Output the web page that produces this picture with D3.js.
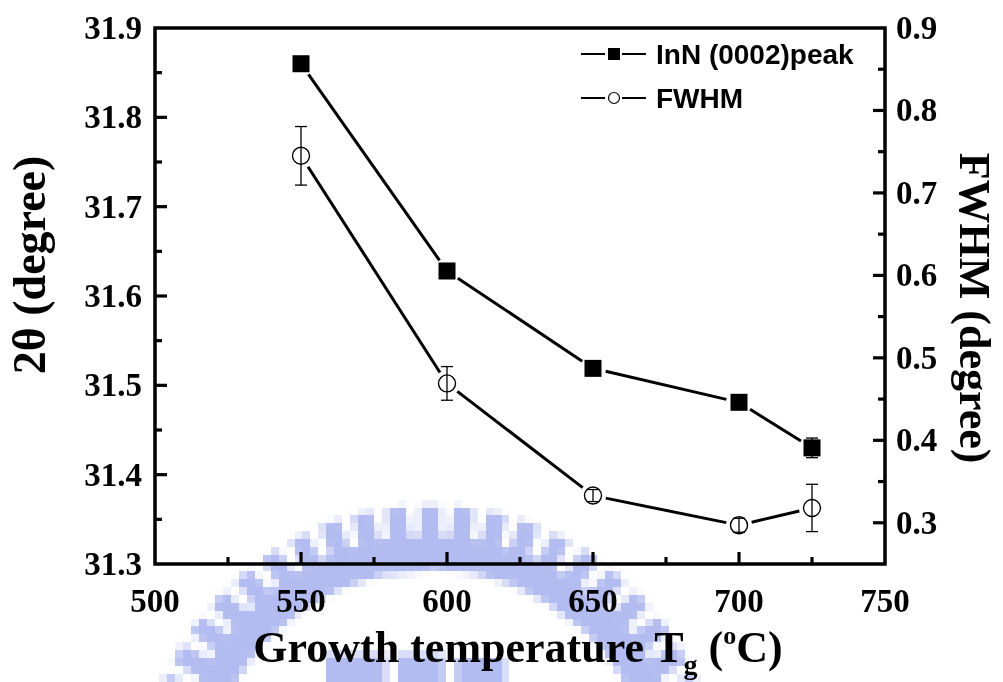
<!DOCTYPE html>
<html>
<head>
<meta charset="utf-8">
<script src="https://cdn.jsdelivr.net/npm/d3@7"></script>
<style>
  html, body { margin: 0; padding: 0; background: #fff; }
  #wrap { position: relative; width: 1003px; height: 682px; overflow: hidden; }
  #mark { position: absolute; left: 0; top: 0; width: 1003px; height: 682px; image-rendering: pixelated; }
  svg { position: absolute; left: 0; top: 0; }
</style>
</head>
<body>
<div id="wrap">
  <canvas id="mark"></canvas>
  <svg id="chart" width="1003" height="682"></svg>
</div>
<script>
// Growth temperature (°C)
const temps = [550, 600, 650, 700, 725];
// InN (0002) peak position 2θ (degree), left axis
const peak = [31.860, 31.628, 31.519, 31.481, 31.430];
const peakErr = [0, 0, 0, 0, 0.011];
// FWHM (degree), right axis
const fwhm = [0.745, 0.469, 0.333, 0.297, 0.318];
const fwhmErr = [0.0355, 0.0204, 0.0073, 0.0085, 0.0287];
// Tick values
const xTicks = [500, 550, 600, 650, 700, 750];
const leftTicks = [31.3, 31.4, 31.5, 31.6, 31.7, 31.8, 31.9];
const rightTicks = [0.3, 0.4, 0.5, 0.6, 0.7, 0.8, 0.9];

const L = 155, R = 885, T = 28, B = 564;
const x = d3.scaleLinear().domain([500, 750]).range([L, R]);
const yL = d3.scaleLinear().domain([31.3, 31.9]).range([B, T]);
const yR = d3.scaleLinear().domain([0.25, 0.9]).range([B, T]);

// ---- faint gear-ring emblem behind the plot, rendered coarse and scaled up ----
(function drawEmblem() {
  const cell = 8;
  const cv = document.getElementById('mark');
  cv.width = Math.ceil(1003 / cell);
  cv.height = Math.ceil(682 / cell);
  const ctx = cv.getContext('2d');
  ctx.scale(1 / cell, 1 / cell);
  ctx.fillStyle = '#b3bcf0';
  const cx = 432, cy = 800;
  // ring band
  const band = d3.arc().innerRadius(225).outerRadius(260)
    .startAngle(-Math.PI * 0.62).endAngle(Math.PI * 0.62).context(ctx);
  ctx.save(); ctx.translate(cx, cy); ctx.beginPath(); band(); ctx.fill(); ctx.restore();
  // teeth
  d3.range(-15, 16).forEach(i => {
    ctx.save();
    ctx.translate(cx, cy);
    ctx.rotate(i * 0.118);
    ctx.fillRect(-10, -290, 20, 36);
    ctx.restore();
  });
  // central block
  ctx.fillRect(328, 660, 60, 30);
  ctx.fillRect(400, 660, 46, 30);
  ctx.fillRect(458, 664, 50, 30);
})();

const svg = d3.select('#chart');
const serif = "'Liberation Serif', 'Times New Roman', serif";
const sans = "'Liberation Sans', Arial, sans-serif";

// ---- frame ----
svg.append('rect').attr('x', L).attr('y', T).attr('width', R - L).attr('height', B - T)
  .attr('fill', 'none').attr('stroke', '#000').attr('stroke-width', 3.5);

// ---- ticks (inward) ----
const tk = svg.append('g').attr('stroke', '#000').attr('stroke-width', 3.2);
d3.range(500, 751, 25).forEach(v => {
  if (v === 500 || v === 750) return;
  const len = v % 50 === 0 ? 12 : 7;
  tk.append('line').attr('x1', x(v)).attr('x2', x(v)).attr('y1', B).attr('y2', B - len);
});
d3.range(1, 12).forEach(i => {
  const v = 31.3 + i * 0.05;
  const len = i % 2 === 0 ? 12 : 7;
  tk.append('line').attr('x1', L).attr('x2', L + len).attr('y1', yL(v)).attr('y2', yL(v));
});
d3.range(1, 13).forEach(i => {
  const v = 0.25 + i * 0.05;
  const len = i % 2 === 1 ? 12 : 7;
  tk.append('line').attr('x1', R).attr('x2', R - len).attr('y1', yR(v)).attr('y2', yR(v));
});

// ---- tick labels ----
const lab = svg.append('g').attr('font-family', serif).attr('font-weight', 'bold')
  .attr('font-size', 33).attr('fill', '#000');
xTicks.forEach(v => lab.append('text').attr('x', x(v)).attr('y', 612)
  .attr('text-anchor', 'middle').text(v));
leftTicks.forEach(v => lab.append('text').attr('x', 142).attr('y', yL(v) + 11)
  .attr('text-anchor', 'end').text(d3.format('.1f')(v)));
rightTicks.forEach(v => lab.append('text').attr('x', 896).attr('y', yR(v) + 11)
  .attr('text-anchor', 'start').text(d3.format('.1f')(v)));

// ---- axis titles ----
svg.append('text').attr('transform', 'translate(45,265) rotate(-90)')
  .attr('text-anchor', 'middle').attr('font-family', serif).attr('font-weight', 'bold')
  .attr('font-size', 46).text('2θ  (degree)');
svg.append('text').attr('transform', 'translate(960,308) rotate(90)')
  .attr('text-anchor', 'middle').attr('font-family', serif).attr('font-weight', 'bold')
  .attr('font-size', 44).text('FWHM (degree)');
const xt = svg.append('text').attr('x', 518).attr('y', 662).attr('text-anchor', 'middle')
  .attr('font-family', serif).attr('font-weight', 'bold').attr('font-size', 44);
xt.append('tspan').text('Growth temperature T');
xt.append('tspan').attr('font-size', 28).attr('dy', 12).text('g');
xt.append('tspan').attr('font-size', 44).attr('dy', -12).text(' (');
xt.append('tspan').attr('font-size', 26).attr('dy', -18).text('o');
xt.append('tspan').attr('font-size', 44).attr('dy', 18).text('C)');

// ---- connecting lines, stopped short of each marker ----
function gappedSegments(pts, gap) {
  const segs = [];
  for (let i = 0; i < pts.length - 1; i++) {
    const [x1, y1] = pts[i], [x2, y2] = pts[i + 1];
    const d = Math.hypot(x2 - x1, y2 - y1);
    const ux = (x2 - x1) / d, uy = (y2 - y1) / d;
    segs.push([[x1 + ux * gap, y1 + uy * gap], [x2 - ux * gap, y2 - uy * gap]]);
  }
  return segs;
}
const line = d3.line();
const peakPts = temps.map((t, i) => [x(t), yL(peak[i])]);
const fwhmPts = temps.map((t, i) => [x(t), yR(fwhm[i])]);
[peakPts, fwhmPts].forEach(pts => {
  gappedSegments(pts, 13).forEach(s => svg.append('path').attr('d', line(s))
    .attr('fill', 'none').attr('stroke', '#000').attr('stroke-width', 3));
});

// ---- error bars ----
const eb = svg.append('g').attr('stroke', '#000').attr('stroke-width', 1.3).attr('fill', 'none');
function errBar(cx, yTop, yBot) {
  eb.append('line').attr('x1', cx).attr('x2', cx).attr('y1', yTop).attr('y2', yBot);
  eb.append('line').attr('x1', cx - 6).attr('x2', cx + 6).attr('y1', yTop).attr('y2', yTop);
  eb.append('line').attr('x1', cx - 6).attr('x2', cx + 6).attr('y1', yBot).attr('y2', yBot);
}
temps.forEach((t, i) => {
  if (fwhmErr[i] > 0) errBar(x(t), yR(fwhm[i] + fwhmErr[i]), yR(fwhm[i] - fwhmErr[i]));
  if (peakErr[i] > 0) errBar(x(t), yL(peak[i] + peakErr[i]), yL(peak[i] - peakErr[i]));
});

// ---- markers ----
svg.append('g').selectAll('rect').data(temps).join('rect')
  .attr('x', d => x(d) - 8.5).attr('y', (d, i) => yL(peak[i]) - 8.5)
  .attr('width', 17).attr('height', 17).attr('fill', '#000');
// hollow circles so the short error bars show through them
svg.append('g').selectAll('circle').data(temps).join('circle')
  .attr('cx', d => x(d)).attr('cy', (d, i) => yR(fwhm[i])).attr('r', 8.5)
  .attr('fill', 'none').attr('stroke', '#000').attr('stroke-width', 1.4);

// ---- legend ----
const lg = svg.append('g');
const legendRows = [
  { label: 'InN (0002)peak', y: 54, kind: 'square' },
  { label: 'FWHM', y: 98, kind: 'circle' }
];
legendRows.forEach(r => {
  lg.append('line').attr('x1', 581).attr('x2', 605).attr('y1', r.y).attr('y2', r.y)
    .attr('stroke', '#000').attr('stroke-width', 2);
  lg.append('line').attr('x1', 622).attr('x2', 646).attr('y1', r.y).attr('y2', r.y)
    .attr('stroke', '#000').attr('stroke-width', 2);
  if (r.kind === 'square') {
    lg.append('rect').attr('x', 608).attr('y', r.y - 6).attr('width', 12).attr('height', 12).attr('fill', '#000');
  } else {
    lg.append('circle').attr('cx', 614).attr('cy', r.y).attr('r', 5.5)
      .attr('fill', '#fff').attr('stroke', '#000').attr('stroke-width', 1.2);
  }
  lg.append('text').attr('x', 656).attr('y', r.y + 10).attr('font-family', sans)
    .attr('font-weight', 'bold').attr('font-size', 28).text(r.label);
});
</script>
</body>
</html>
